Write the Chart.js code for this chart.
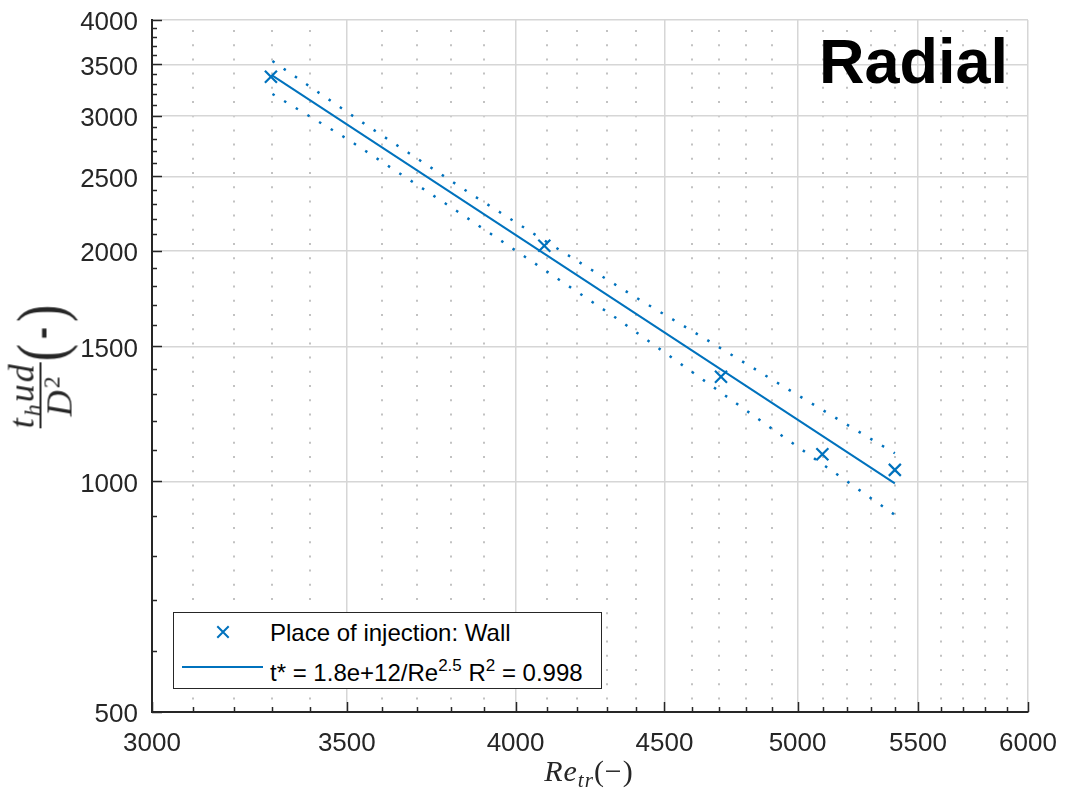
<!DOCTYPE html>
<html>
<head>
<meta charset="utf-8">
<script src="https://cdn.jsdelivr.net/npm/chart.js@4.4.1/dist/chart.umd.min.js"></script>
<style>
html,body{margin:0;padding:0;background:#fff;}
#wrap{position:relative;width:1065px;height:798px;overflow:hidden;}
#c{position:absolute;left:0;top:0;}
#tag{position:absolute;right:57px;top:30px;font-family:'Liberation Sans',Arial,sans-serif;font-weight:bold;font-size:63px;line-height:63px;color:#000;}
#legend{position:absolute;left:173px;top:612px;width:429px;height:77px;box-sizing:border-box;border:1.5px solid #262626;background:#fff;}
.ltxt{position:absolute;left:270px;font-family:'Liberation Sans',Arial,sans-serif;font-size:24px;line-height:24px;color:#000;white-space:nowrap;}
.ltxt sup{font-size:17px;line-height:0;vertical-align:10px;}
.lsym{position:absolute;}
#xlab{position:absolute;left:589px;top:771px;transform:translate(-50%,-50%);font-family:'Liberation Serif',serif;font-size:30px;color:#262626;white-space:nowrap;letter-spacing:1px;}
#xlab sub{font-size:21px;vertical-align:-6px;line-height:0;}
#ylab{position:absolute;left:41px;top:366px;transform:translate(-50%,-50%) rotate(-90deg);display:flex;align-items:center;white-space:nowrap;font-family:'Liberation Serif',serif;color:#262626;}
.frac{display:inline-flex;flex-direction:column;align-items:center;font-style:italic;font-size:36px;line-height:31px;letter-spacing:2px;}
.frac sub{font-size:24px;vertical-align:-7px;line-height:0;}
.frac sup{font-size:24px;vertical-align:12px;line-height:0;font-style:normal;}
.bar{display:block;width:100%;height:2px;background:#262626;margin:2px 0 3px 0;}
.par{font-size:52px;font-style:normal;display:inline-block;transform:scaleY(1.3);margin:0 1px;}
.dash{font-family:'Liberation Sans',Arial,sans-serif;font-weight:bold;font-size:36px;margin:0 4px;}
</style>
</head>
<body>
<div id="wrap">
<canvas id="c" width="1065" height="798"></canvas>
<div id="tag">Radial</div>
<div id="legend"></div>
<div id="xlab"><i>Re</i><sub><i>tr</i></sub>(&minus;)</div>
<div id="ylab"><span class="frac"><span><i>t</i><sub><i>h</i></sub><i>ud</i></span><span class="bar"></span><span><i>D</i><sup>2</sup></span></span><span class="par">(</span><span class="dash">-</span><span class="par">)</span></div>
</div>
<script>
// ---- data ----
const reMeasured = [3296, 4092, 4706, 5099, 5400];
const tMeasured  = [3373, 2030, 1369, 1085, 1035];

const reFit = [3300, 5400];
const tFit  = [3385, 994];

const reUpper = [3300, 3550, 3865, 4090, 4410, 4630, 5000, 5400];
const tUpper  = [3536, 2926, 2366, 2065, 1728, 1548, 1296, 1088];

const reLower = [3300, 3500, 3805, 4330, 4455, 4880, 5400];
const tLower  = [3203, 2800, 2273, 1635, 1514, 1184, 904];

const xMajorTicks = [3000, 3500, 4000, 4500, 5000, 5500, 6000];
const yMajorTicks = [500, 1000, 1500, 2000, 2500, 3000, 3500, 4000];

const legendLabels = [
  'Place of injection: Wall',
  't* = 1.8e+12/Re<sup>2.5</sup> R<sup>2</sup> = 0.998'
];

// all ticks (major + minor every 100)
const xAllTicks = [];
for (let v = 3000; v <= 6000; v += 100) xAllTicks.push(v);
const yAllTicks = [];
for (let v = 500; v <= 4000; v += 100) yAllTicks.push(v);

const BLUE = '#0072BD';
const AXIS = '#262626';
const pts = (xs, ys) => xs.map((x, i) => ({x: x, y: ys[i]}));
const isXMajor = v => xMajorTicks.includes(v);
const isYMajor = v => yMajorTicks.includes(v);

const inwardTicks = {
  id: 'inwardTicks',
  afterDraw(chart) {
    const {ctx, chartArea: a, scales: {x, y}} = chart;
    ctx.save();
    ctx.strokeStyle = AXIS;
    ctx.lineWidth = 1.5;
    x.ticks.forEach(t => {
      const px = Math.round(x.getPixelForValue(t.value)) + 0.5;
      const len = isXMajor(t.value) ? 10 : 5;
      ctx.beginPath(); ctx.moveTo(px, a.bottom); ctx.lineTo(px, a.bottom - len); ctx.stroke();
    });
    y.ticks.forEach(t => {
      const py = Math.round(y.getPixelForValue(t.value)) + 0.5;
      const len = isYMajor(t.value) ? 10 : 5;
      ctx.beginPath(); ctx.moveTo(a.left, py); ctx.lineTo(a.left + len, py); ctx.stroke();
    });
    ctx.restore();
  }
};

const noOverflow = s => { s.paddingTop = 0; s.paddingBottom = 0; s.paddingLeft = 0; s.paddingRight = 0; };

const chart = new Chart(document.getElementById('c'), {
  type: 'scatter',
  data: {
    datasets: [
      {
        label: legendLabels[0],
        data: pts(reMeasured, tMeasured),
        showLine: false,
        pointStyle: 'crossRot',
        pointRadius: 8.5,
        pointBorderWidth: 2.2,
        borderColor: BLUE,
        backgroundColor: BLUE
      },
      {
        label: legendLabels[1],
        data: pts(reFit, tFit),
        showLine: true,
        pointRadius: 0,
        borderWidth: 2,
        borderColor: BLUE
      },
      {
        label: 'upper bound',
        data: pts(reUpper, tUpper),
        showLine: true,
        pointRadius: 0,
        borderWidth: 2.5,
        borderDash: [2.5, 11.1],
        borderColor: BLUE
      },
      {
        label: 'lower bound',
        data: pts(reLower, tLower),
        showLine: true,
        pointRadius: 0,
        borderWidth: 2.5,
        borderDash: [2.5, 11.1],
        borderColor: BLUE
      }
    ]
  },
  options: {
    responsive: false,
    animation: false,
    devicePixelRatio: 1,
    layout: {padding: {top: 20, right: 37, left: 0, bottom: 0}},
    plugins: {legend: {display: false}, tooltip: {enabled: false}},
    scales: {
      x: {
        type: 'logarithmic',
        min: 3000,
        max: 6000,
        afterBuildTicks: s => { s.ticks = xAllTicks.map(v => ({value: v})); },
        afterFit: s => { s.height = 86; noOverflow(s); },
        ticks: {
          autoSkip: false,
          maxRotation: 0,
          padding: 16,
          color: AXIS,
          font: {family: "'Liberation Sans', Arial, sans-serif", size: 26},
          callback: v => isXMajor(v) ? String(v) : ''
        },
        grid: {
          drawTicks: false,
          color: c => (c.tick && isXMajor(c.tick.value)) ? '#d6d6d6' : '#c2c2c2',
          lineWidth: c => (c.tick && isXMajor(c.tick.value)) ? 1.5 : 2
        },
        border: {
          display: true,
          color: AXIS,
          width: 2,
          dash: c => (c.tick && !isXMajor(c.tick.value)) ? [2, 12.2] : [],
          dashOffset: -10
        }
      },
      y: {
        type: 'logarithmic',
        min: 500,
        max: 4000,
        afterBuildTicks: s => { s.ticks = yAllTicks.map(v => ({value: v})); },
        afterFit: s => { s.width = 152; noOverflow(s); },
        ticks: {
          autoSkip: false,
          padding: 14,
          labelOffset: 3,
          color: AXIS,
          font: {family: "'Liberation Sans', Arial, sans-serif", size: 26},
          callback: v => isYMajor(v) ? String(v) : ''
        },
        grid: {
          drawTicks: false,
          color: c => (c.tick && isYMajor(c.tick.value)) ? '#d6d6d6' : 'rgba(0,0,0,0)',
          lineWidth: 1.5
        },
        border: {display: true, color: AXIS, width: 2}
      }
    }
  },
  plugins: [inwardTicks]
});

// HTML legend (rich text with superscripts) built from the dataset labels
const wrap = document.getElementById('wrap');
const t1 = document.createElement('div');
t1.className = 'ltxt'; t1.style.top = '621px'; t1.innerHTML = chart.data.datasets[0].label;
const t2 = document.createElement('div');
t2.className = 'ltxt'; t2.style.top = '661px'; t2.innerHTML = chart.data.datasets[1].label;
wrap.appendChild(t1); wrap.appendChild(t2);
const s1 = document.createElementNS('http://www.w3.org/2000/svg', 'svg');
s1.setAttribute('width', '20'); s1.setAttribute('height', '20');
s1.setAttribute('class', 'lsym');
s1.style.left = '213px'; s1.style.top = '622px';
s1.innerHTML = '<path d="M4.3 4.3 L15.7 15.7 M15.7 4.3 L4.3 15.7" stroke="' + BLUE + '" stroke-width="2" fill="none"/>';
wrap.appendChild(s1);
const s2 = document.createElementNS('http://www.w3.org/2000/svg', 'svg');
s2.setAttribute('width', '82'); s2.setAttribute('height', '6');
s2.setAttribute('class', 'lsym');
s2.style.left = '182px'; s2.style.top = '664px';
s2.innerHTML = '<line x1="0" y1="3" x2="81" y2="3" stroke="' + BLUE + '" stroke-width="2"/>';
wrap.appendChild(s2);
</script>
</body>
</html>
